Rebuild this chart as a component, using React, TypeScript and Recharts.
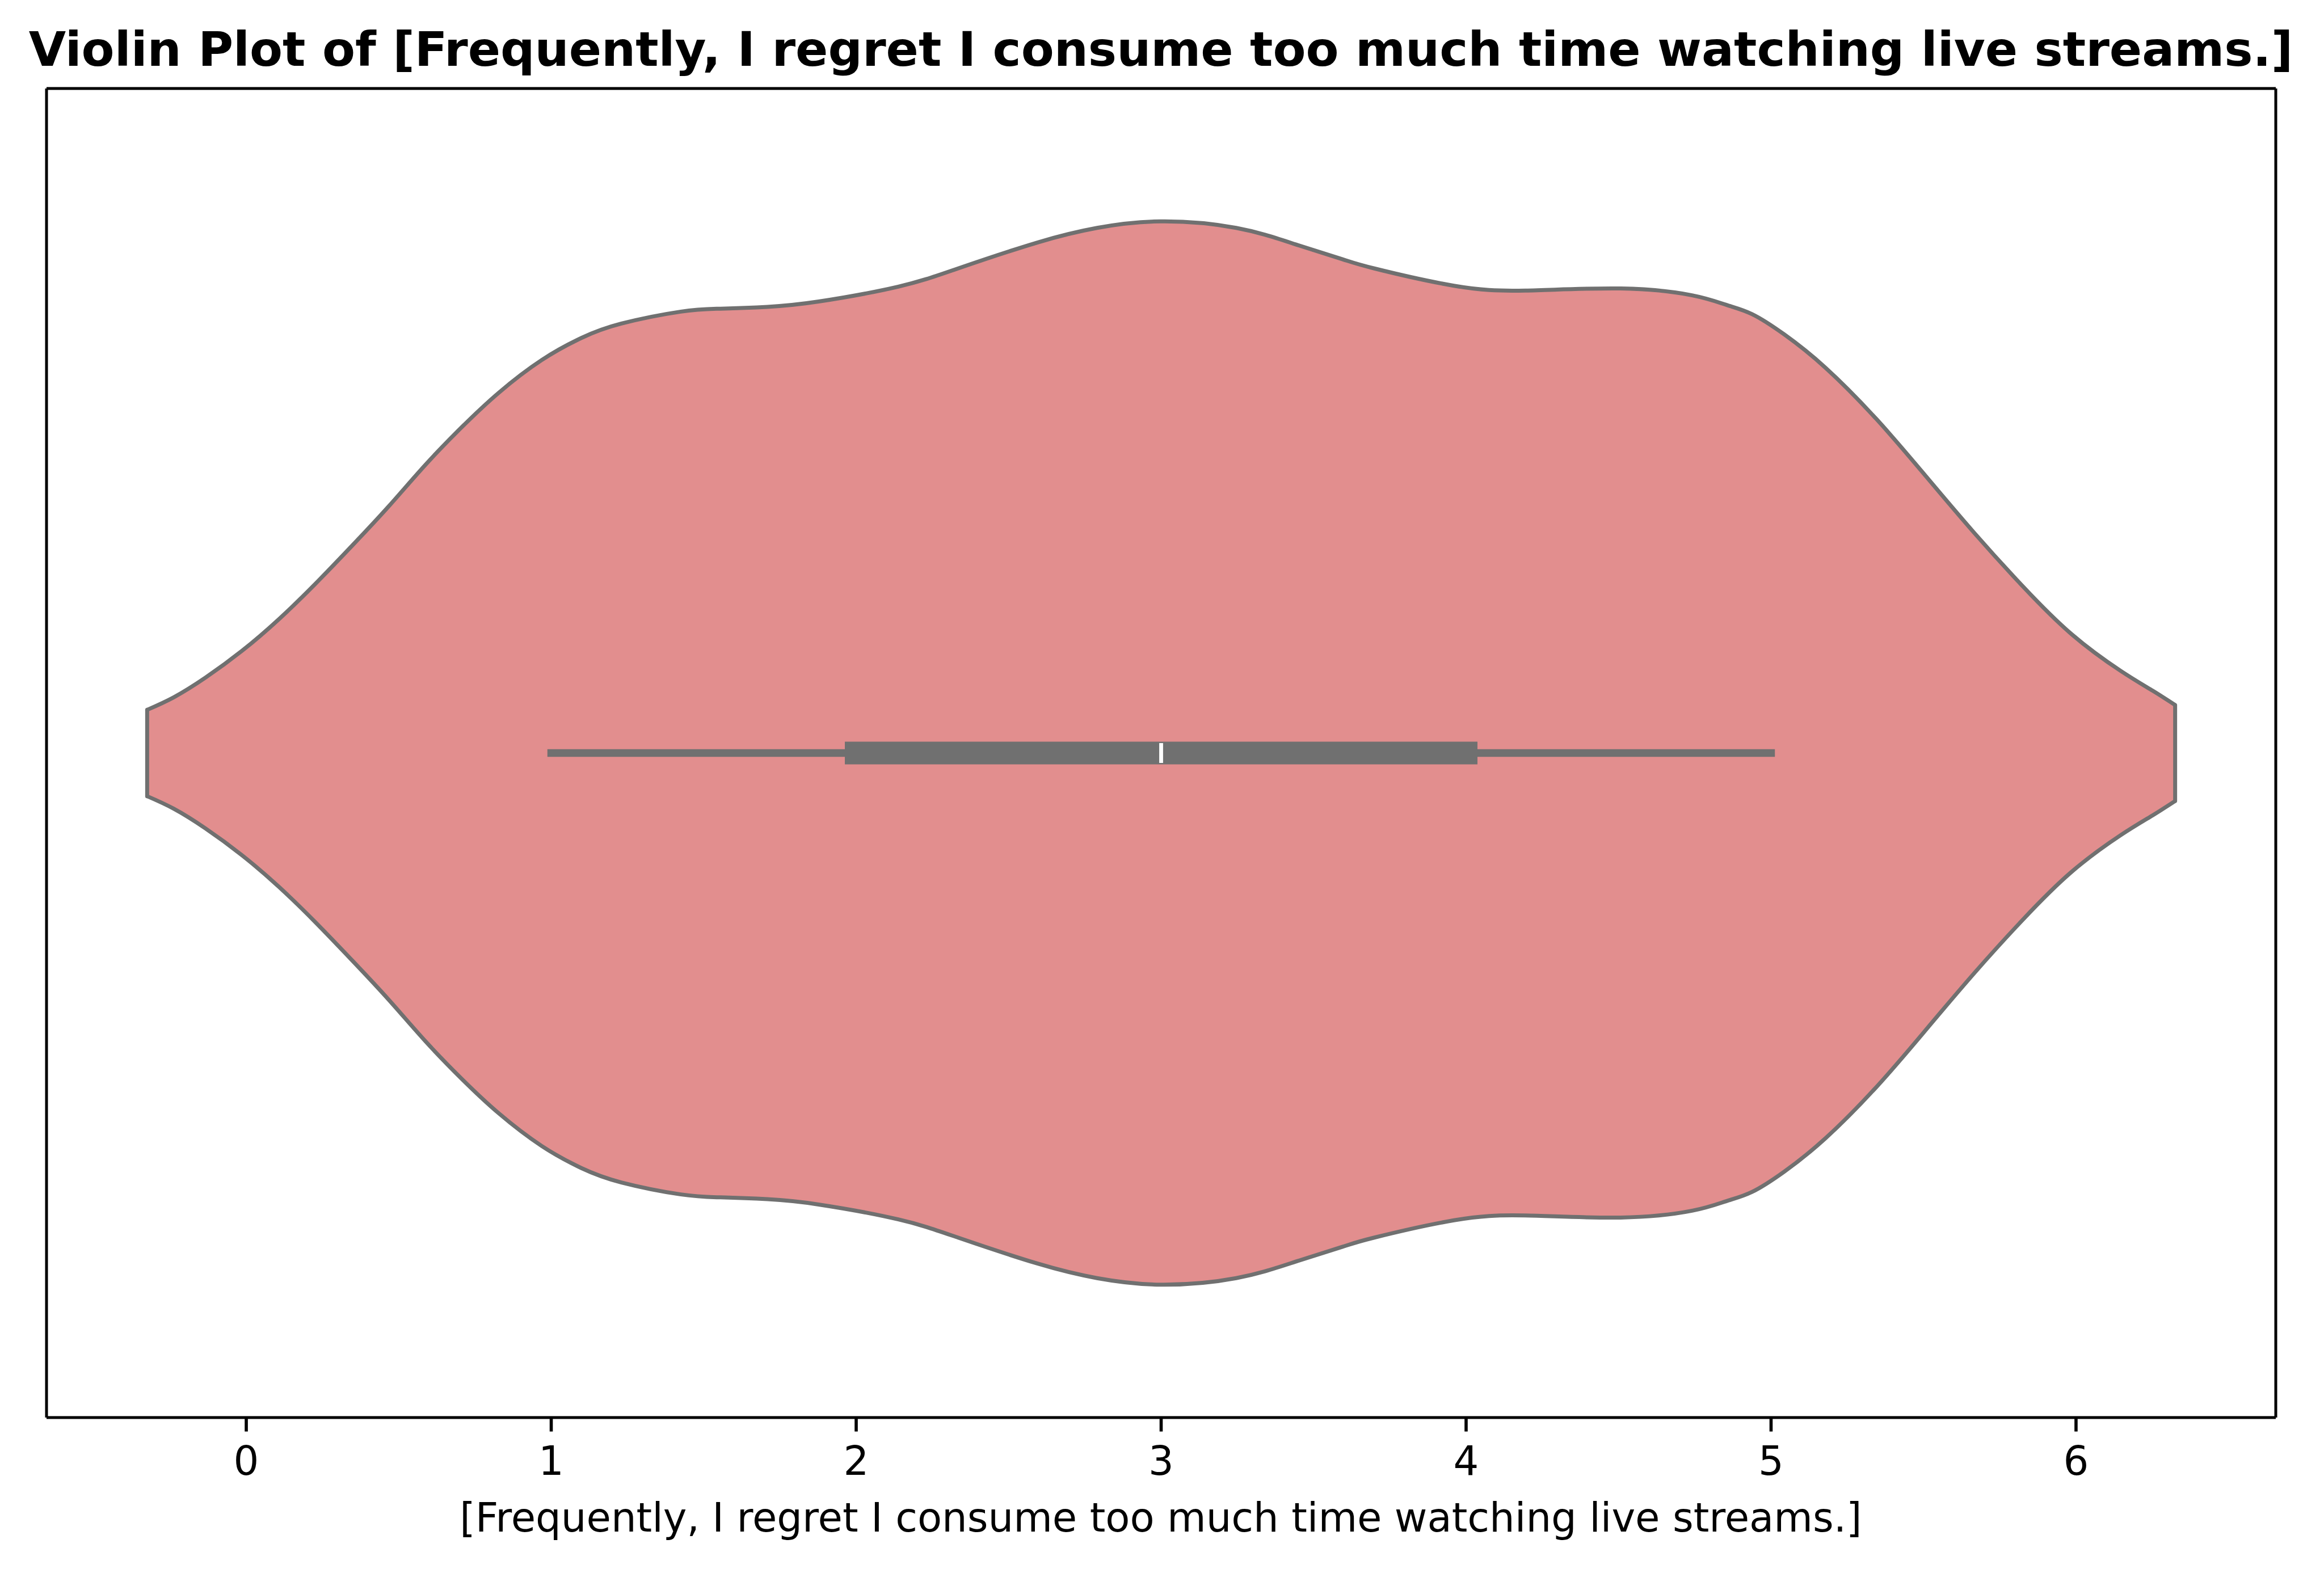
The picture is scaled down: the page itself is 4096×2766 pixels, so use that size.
import { ComposedChart, Area, XAxis, YAxis, ReferenceLine, ReferenceDot } from 'recharts';

// violin outline: value position and half-width (category units, max 0.4)
const violinX = [
  -0.325, -0.238, -0.134, -0.014, 0.107, 0.227, 0.347, 0.467, 0.588, 0.708, 0.828, 0.969, 1.099, 1.23,
  1.425, 1.552, 1.709, 1.877, 2.138, 2.334, 2.594, 2.79, 2.998, 3.246, 3.441, 3.595, 3.699, 3.96,
  4.194, 4.507, 4.741, 4.853, 4.937, 5.043, 5.177, 5.345, 5.505, 5.666, 5.826, 5.986, 6.147, 6.251, 6.325,
];
const violinHalfWidth = [
  0.0325, 0.0419, 0.0567, 0.0769, 0.1007, 0.1274, 0.156, 0.1856, 0.217, 0.2455, 0.2711, 0.2957, 0.3123, 0.3231,
  0.3321, 0.3343, 0.3357, 0.3397, 0.3509, 0.3646, 0.3841, 0.3951, 0.4, 0.3951, 0.3827, 0.3715, 0.3646, 0.3516,
  0.348, 0.3495, 0.3444, 0.3372, 0.3303, 0.315, 0.2902, 0.2514, 0.209, 0.1657, 0.1253, 0.0893, 0.0617, 0.0469, 0.0361,
];

// inner box
const whiskerLow = 1;
const q1 = 2;
const median = 3;
const q3 = 4;
const whiskerHigh = 5;

const xTicks = [0, 1, 2, 3, 4, 5, 6];
const xDomain: [number, number] = [-0.655, 6.655];

const title = 'Violin Plot of [Frequently, I regret I consume too much time watching live streams.]';
const xLabel = '[Frequently, I regret I consume too much time watching live streams.]';

const FONT = 'DejaVu Sans';
const FILL = '#e28e8e';
const LINE = '#707070';

const data = violinX.map((x, i) => ({ x, band: [-violinHalfWidth[i], violinHalfWidth[i]] }));
const first = 0;
const last = violinX.length - 1;

export default function App() {
  return (
    <div style={{ position: 'absolute', left: 0, top: 0, width: 4096, height: 2766, background: '#fff' }}>
      <ComposedChart
        width={4096}
        height={2766}
        data={data}
        margin={{ top: 155, right: 84, left: 22, bottom: 67 }}
      >
        <XAxis
          dataKey="x"
          type="number"
          domain={xDomain}
          allowDataOverflow
          ticks={xTicks}
          interval={0}
          height={200}
          tickSize={24.6}
          tickMargin={26}
          axisLine={{ stroke: '#000', strokeWidth: 5 }}
          tickLine={{ stroke: '#000', strokeWidth: 5.6 }}
          tick={{ fontSize: 70.5, fill: '#000', fontFamily: FONT }}
        />
        <XAxis
          xAxisId="top"
          orientation="top"
          type="number"
          domain={xDomain}
          allowDataOverflow
          height={1}
          tick={false}
          tickLine={false}
          axisLine={{ stroke: '#000', strokeWidth: 5 }}
        />
        <YAxis
          type="number"
          domain={[-0.5, 0.5]}
          allowDataOverflow
          ticks={[0]}
          width={60}
          tickSize={24.6}
          tick={false}
          axisLine={{ stroke: '#000', strokeWidth: 5 }}
          tickLine={{ stroke: '#000', strokeWidth: 5.6 }}
        />
        <YAxis
          yAxisId="right"
          orientation="right"
          type="number"
          domain={[-0.5, 0.5]}
          allowDataOverflow
          width={1}
          tick={false}
          tickLine={false}
          axisLine={{ stroke: '#000', strokeWidth: 5 }}
        />
        <Area
          dataKey="band"
          type="natural"
          fill={FILL}
          fillOpacity={1}
          stroke={LINE}
          strokeWidth={7}
          strokeLinejoin="round"
          dot={false}
          activeDot={false}
          isAnimationActive={false}
        />
        <ReferenceLine
          segment={[{ x: violinX[first], y: -violinHalfWidth[first] }, { x: violinX[first], y: violinHalfWidth[first] }]}
          stroke={LINE}
          strokeWidth={7}
          strokeLinecap="round"
        />
        <ReferenceLine
          segment={[{ x: violinX[last], y: -violinHalfWidth[last] }, { x: violinX[last], y: violinHalfWidth[last] }]}
          stroke={LINE}
          strokeWidth={7}
          strokeLinecap="round"
        />
        <ReferenceLine
          segment={[{ x: whiskerLow, y: 0 }, { x: whiskerHigh, y: 0 }]}
          stroke={LINE}
          strokeWidth={13.5}
          strokeLinecap="square"
        />
        <ReferenceLine
          segment={[{ x: q1, y: 0 }, { x: q3, y: 0 }]}
          stroke={LINE}
          strokeWidth={40}
          strokeLinecap="square"
        />
        <ReferenceDot
          x={median}
          y={0}
          r={1}
          shape={(p: any) => (
            <rect x={p.cx - 3.4} y={p.cy - 17.5} width={6.8} height={35} fill="#fff" />
          )}
        />
      </ComposedChart>
      <svg
        width={4096}
        height={2766}
        style={{ position: 'absolute', left: 0, top: 0, pointerEvents: 'none' }}
      >
        <text x={2046} y={116} textAnchor="middle" fontFamily={FONT} fontWeight="bold" fontSize={84.5} fill="#000">
          {title}
        </text>
        <text x={2046} y={2700} textAnchor="middle" fontFamily={FONT} fontSize={70.5} fill="#000">
          {xLabel}
        </text>
      </svg>
    </div>
  );
}
